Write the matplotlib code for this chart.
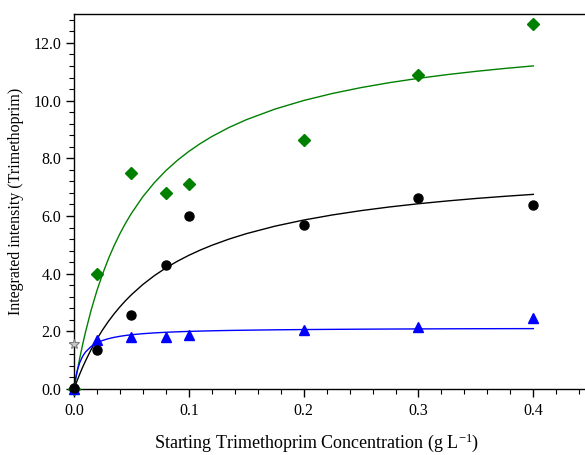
import matplotlib
matplotlib.use("Agg")
import matplotlib.pyplot as plt
from matplotlib.ticker import MultipleLocator, FormatStrFormatter

plt.rcParams['font.family'] = ['Liberation Serif', 'DejaVu Serif']
plt.rcParams['mathtext.fontset'] = 'custom'
plt.rcParams['mathtext.rm'] = 'Liberation Serif'
plt.rcParams['mathtext.default'] = 'regular'

# measured points
conc = [0.0, 0.02, 0.05, 0.08, 0.1, 0.2, 0.3, 0.4]
green_pts = [0.0, 4.0, 7.5, 6.8, 7.1, 8.62, 10.88, 12.65]
black_pts = [0.03, 1.36, 2.58, 4.3, 6.0, 5.68, 6.62, 6.37]
blue_pts = [0.0, 1.7, 1.8, 1.8, 1.87, 2.03, 2.14, 2.46]
star_x = [0.0]
star_y = [1.56]

# fitted curves
curve_x = [0, 0.001, 0.0025, 0.005, 0.0075, 0.01, 0.015, 0.02, 0.025, 0.03,
           0.035, 0.04, 0.045, 0.05, 0.06, 0.07, 0.08, 0.09, 0.1, 0.11,
           0.12, 0.135, 0.15, 0.175, 0.2, 0.225, 0.25, 0.275, 0.3, 0.325,
           0.35, 0.375, 0.4]
green_fit = [0, 0.229, 0.558, 1.070, 1.540, 1.974, 2.748, 3.417, 4.000, 4.520,
             4.978, 5.388, 5.757, 6.091, 6.671, 7.157, 7.572, 7.929, 8.239, 8.512,
             8.754, 9.069, 9.337, 9.707, 10.004, 10.248, 10.452, 10.625, 10.773, 10.902,
             11.015, 11.115, 11.204]
black_fit = [0, 0.109, 0.268, 0.519, 0.754, 0.974, 1.377, 1.736, 2.058, 2.348,
             2.611, 2.850, 3.069, 3.270, 3.626, 3.932, 4.198, 4.430, 4.636, 4.819,
             4.983, 5.199, 5.386, 5.647, 5.859, 6.036, 6.186, 6.314, 6.425, 6.521,
             6.607, 6.682, 6.750]
blue_fit = [0, 0.280, 0.585, 0.918, 1.133, 1.283, 1.479, 1.602, 1.685, 1.746,
            1.792, 1.828, 1.858, 1.882, 1.919, 1.946, 1.968, 1.984, 1.998, 2.009,
            2.019, 2.031, 2.040, 2.053, 2.062, 2.069, 2.075, 2.080, 2.084, 2.088,
            2.091, 2.093, 2.095]

fig = plt.figure(figsize=(5.85, 4.55), dpi=100)
ax = fig.add_axes([0.1265, 0.145, 0.8735, 0.824])

ax.plot(curve_x, green_fit, color="#008000", linewidth=1.0, zorder=2)
ax.plot(curve_x, black_fit, color="black", linewidth=1.0, zorder=2)
ax.plot(curve_x, blue_fit, color="#0000ff", linewidth=1.0, zorder=2)

ax.plot(conc, green_pts, linestyle="none", marker="D", markersize=6.4,
        color="#008000", zorder=3, clip_on=False)
ax.plot(conc, blue_pts, linestyle="none", marker="^", markersize=7.5,
        color="#0000ff", zorder=3, clip_on=False)
ax.plot(conc, black_pts, linestyle="none", marker="o", markersize=6.5,
        color="black", zorder=4, clip_on=False)
ax.plot(star_x, star_y, linestyle="none", marker="*", markersize=7,
        markerfacecolor="#c8c8c8", markeredgecolor="#808080", markeredgewidth=0.8,
        zorder=4, clip_on=False)

ax.set_xlim(0, 0.445)
ax.set_ylim(0, 13.0)
ax.xaxis.set_major_locator(MultipleLocator(0.1))
ax.xaxis.set_minor_locator(MultipleLocator(0.02))
ax.yaxis.set_major_locator(MultipleLocator(2.0))
ax.yaxis.set_minor_locator(MultipleLocator(0.4))
ax.xaxis.set_major_formatter(FormatStrFormatter("%.1f"))
ax.yaxis.set_major_formatter(FormatStrFormatter("%.1f"))

ax.spines["right"].set_visible(False)
for s in ["left", "bottom", "top"]:
    ax.spines[s].set_linewidth(1.0)
ax.tick_params(which="major", direction="out", length=6, width=1.0,
               labelsize=11.5, top=False, right=False)
ax.tick_params(which="minor", direction="out", length=3.5, width=0.8,
               top=False, right=False)
ax.tick_params(axis="x", which="major", pad=4)
ax.tick_params(axis="y", which="major", pad=3)

ax.set_xlabel("Starting Trimethoprim Concentration (g L$^{-1}$)", fontsize=13, labelpad=9)
ax.xaxis.label.set_x(0.475)
ax.set_ylabel("Integrated intensity (Trimethoprim)", fontsize=11.5, labelpad=7)

fig.savefig("out.png", dpi=100)
